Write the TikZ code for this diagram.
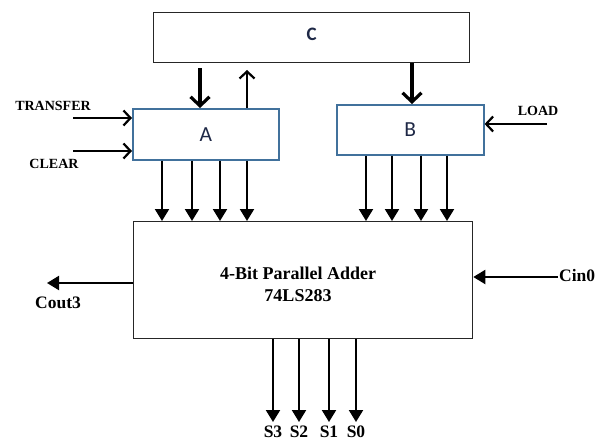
\documentclass[tikz,border=0pt]{standalone}
\usepackage{fontspec}
\setmainfont{Liberation Serif}
\newfontfamily\boxfont{Carlito}
\usetikzlibrary{arrows.meta}
\definecolor{regblue}{RGB}{65,113,156}
\definecolor{boxtext}{RGB}{30,40,70}
\tikzset{
  regbox/.style={draw=regblue, line width=1.6pt, fill=white, inner sep=0pt},
  unitbox/.style={draw=black!85, line width=1.3pt, fill=white, inner sep=0pt},
  boxlabel/.style={font=\boxfont\fontsize{21.5}{23}\selectfont, text=boxtext},
  siglabel/.style={font=\bfseries\fontsize{14}{16}\selectfont, inner sep=0pt},
  outlabel/.style={font=\bfseries\fontsize{17.5}{19}\selectfont, inner sep=0pt},
  busarrow/.style={line width=3.2pt, -{Straight Barb[length=9pt,width=19pt,line width=3.2pt]}},
  thinbarb/.style={line width=2.2pt, -{Straight Barb[length=7pt,width=15pt,line width=2.2pt]}},
  linearrow/.style={line width=2.1pt, -{Triangle[length=12pt,width=14pt]}},
}
\begin{document}
\begin{tikzpicture}[x=1pt,y=-1pt]
\useasboundingbox (0,0) rectangle (604,441);

% registers and the adder
\node[unitbox, minimum width=316pt, minimum height=50pt, anchor=north west] (C) at (153,12) {};
\node[boxlabel, font=\boxfont\bfseries\fontsize{19}{21}\selectfont] at ([yshift=3pt]C.center) {C};
\node[regbox, minimum width=146pt, minimum height=51pt, anchor=north west] (A) at (132,108) {};
\node[boxlabel] at (A.center) {A};
\node[regbox, minimum width=147pt, minimum height=50pt, anchor=north west] (B) at (336,104) {};
\node[boxlabel] at (B.center) {B};
\node[unitbox, minimum width=339pt, minimum height=117pt, anchor=north west] (ADD) at (133,221) {};
\node[font=\bfseries\fontsize{18}{22}\selectfont, align=center] (ADDT) at (298,284) {4-Bit Parallel Adder\\74LS283};

% transfers between C and the registers
\draw[busarrow] (200,0 |- C.south) ++(0,5) -- (200,0 |- A.north);
\draw[thinbarb] (247,0 |- A.north) -- ++(0,-38);
\draw[busarrow] (412,0 |- C.south) -- (412,0 |- B.north);

% control inputs
\coordinate (tr) at (73,118);
\coordinate (cl) at (73,151);
\coordinate (ld) at (547,124);
\draw[thinbarb] (tr) -- (tr -| A.west);
\draw[thinbarb] (cl) -- (cl -| A.west);
\draw[thinbarb] (ld) -- (ld -| B.east);
\node[siglabel] at (53,106) {TRANSFER};
\node[siglabel] at (54,164) {CLEAR};
\node[siglabel] at (538,111) {LOAD};

% register outputs into the adder
\foreach \x in {162,192,220,247}
  \draw[linearrow] (\x,0 |- A.south) -- (\x,0 |- ADD.north);
\foreach \x in {366,392,421,447}
  \draw[linearrow] (\x,0 |- B.south) -- (\x,0 |- ADD.north);

% carry in and carry out
\coordinate (cin) at (558,277);
\coordinate (cout) at (47,283);
\draw[linearrow] (cin) -- (cin -| ADD.east);
\draw[linearrow] (cout -| ADD.west) -- (cout);
\node[outlabel, anchor=west] at (559,276) {Cin0};
\node[outlabel] at (58,303) {Cout3};

% sum outputs
\foreach \x/\s in {273/S3,299/S2,329/S1,356/S0}{
  \coordinate (\s) at (\x,422);
  \draw[linearrow] (\x,0 |- ADD.south) -- (\s);
  \node[outlabel] at (\x,432) {\s};
}
\end{tikzpicture}
\end{document}
